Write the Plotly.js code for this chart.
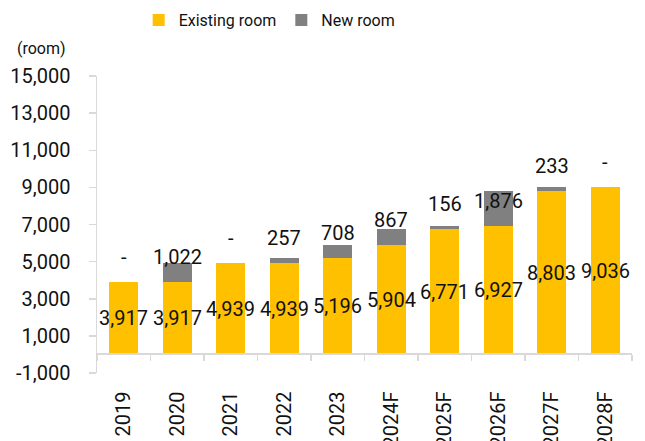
<!DOCTYPE html>
<html>
<head>
<meta charset="utf-8">
<script src="https://cdn.plot.ly/plotly-3.0.1.min.js"></script>
<style>
  html, body { margin: 0; padding: 0; background: #fff; }
  #chart { width: 645px; height: 441px; }
</style>
</head>
<body>
<div id="chart"></div>
<script>
// Hotel room supply: rooms already open vs. rooms added in the year
const categories = ['2019', '2020', '2021', '2022', '2023', '2024F', '2025F', '2026F', '2027F', '2028F'];
const existingRoom = [3917, 3917, 4939, 4939, 5196, 5904, 6771, 6927, 8803, 9036];
const newRoom = [0, 1022, 0, 257, 708, 867, 156, 1876, 233, 0];

const yTickVals = [-1000, 1000, 3000, 5000, 7000, 9000, 11000, 13000, 15000];
const yTickText = ['-1,000', '1,000', '3,000', '5,000', '7,000', '9,000', '11,000', '13,000', '15,000'];

const FONT = 'Roboto, "Noto Sans", "DejaVu Sans", sans-serif';
const INK = '#111111';
const AXIS = '#d9d9d9';

const fmt = v => (v === 0 ? '-' : v.toLocaleString('en-US'));

const traces = [
  {
    type: 'bar',
    name: 'Existing room',
    x: categories,
    y: existingRoom,
    marker: { color: '#FFC000' },
    width: 0.54,
    hoverinfo: 'skip'
  },
  {
    type: 'bar',
    name: 'New room',
    x: categories,
    y: newRoom,
    marker: { color: '#808080' },
    width: 0.54,
    hoverinfo: 'skip'
  }
];

// value labels: existing rooms centred in the yellow bar,
// new rooms just above where the grey segment starts.
// x is the category index so year-like names are not read as numbers.
const annotations = [];
categories.forEach((c, i) => {
  annotations.push({
    x: i, y: existingRoom[i] / 2, xref: 'x', yref: 'y',
    text: fmt(existingRoom[i]), showarrow: false,
    yanchor: 'middle', font: { family: FONT, size: 20, color: INK }
  });
  annotations.push({
    x: i, y: existingRoom[i], xref: 'x', yref: 'y', yshift: 25,
    text: fmt(newRoom[i]), showarrow: false,
    yanchor: 'middle', font: { family: FONT, size: 20, color: INK }
  });
});

// unit label above the value axis
annotations.push({
  xref: 'paper', yref: 'paper', x: -0.153, y: 1.094,
  xanchor: 'left', yanchor: 'middle',
  text: '(room)', showarrow: false,
  font: { family: FONT, size: 16, color: INK }
});

const layout = {
  width: 645,
  height: 441,
  margin: { l: 97, r: 13, t: 76, b: 68 },
  paper_bgcolor: '#ffffff',
  plot_bgcolor: '#ffffff',
  barmode: 'stack',
  font: { family: FONT, size: 20, color: INK },
  showlegend: true,
  legend: {
    orientation: 'h',
    xref: 'container', yref: 'container',
    x: 0.215, xanchor: 'left',
    y: 1 - 20 / 441, yanchor: 'middle',
    font: { family: FONT, size: 16, color: INK },
    itemwidth: 30,
    traceorder: 'normal'
  },
  xaxis: {
    type: 'category',
    range: [-0.5, 9.5],
    anchor: 'free',
    position: 1 / 16,
    showline: true,
    linecolor: AXIS,
    linewidth: 2,
    ticks: 'outside',
    tickson: 'boundaries',
    ticklen: 6,
    tickwidth: 1.5,
    tickcolor: AXIS,
    tickangle: -90,
    ticklabelstandoff: 28,
    tickfont: { family: FONT, size: 20, color: INK },
    showgrid: false,
    zeroline: false,
    fixedrange: true
  },
  yaxis: {
    range: [-1000, 15000],
    tickvals: yTickVals,
    ticktext: yTickText,
    showline: true,
    linecolor: AXIS,
    linewidth: 1.5,
    ticks: 'outside',
    ticklen: 7,
    tickwidth: 1.5,
    tickcolor: AXIS,
    ticklabelstandoff: 14,
    tickfont: { family: FONT, size: 20, color: INK },
    showgrid: false,
    zeroline: false,
    fixedrange: true
  },
  annotations: annotations
};

Plotly.newPlot('chart', traces, layout, { displayModeBar: false, staticPlot: true });
</script>
</body>
</html>
